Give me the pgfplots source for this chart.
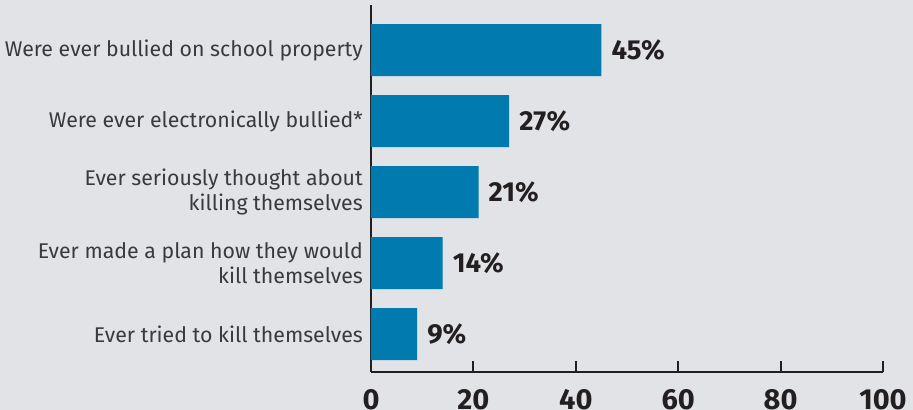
\documentclass[border=0pt]{standalone}
\usepackage{fontspec}
\setmainfont{Fira Sans}
\usepackage{pgfplots}
\pgfplotsset{compat=1.18}
\definecolor{bgc}{HTML}{E2E3E7}
\definecolor{barc}{HTML}{007AAF}
\definecolor{dark}{HTML}{231F20}
\definecolor{labc}{HTML}{3A3A3C}
\begin{document}
\begin{tikzpicture}
\useasboundingbox (-371bp,-38bp) rectangle (542bp,372bp);
\fill[bgc] (-371bp,-38bp) rectangle (542bp,372bp);
\clip (-371bp,-38bp) rectangle (542bp,372bp);
\begin{axis}[
  at={(0,0)}, anchor=south west,
  scale only axis,
  width=512bp, height=367bp,
  xmin=0, xmax=100,
  ymin=-0.535, ymax=4.634,
  axis lines*=left,
  axis line style={line width=2bp, dark},
  xbar, bar width=52bp,
  xtick={0,20,40,60,80,100},
  tick align=inside,
  xtick style={line width=2bp, dark},
  major tick length=11bp,
  ytick={0,1,2,3,4},
  ytick style={draw=none},
  yticklabels={{Ever tried to kill themselves},{Ever made a plan how they would\\kill themselves},{Ever seriously thought about\\killing themselves},{Were ever electronically bullied*},{Were ever bullied on school property}},
  yticklabel style={font=\fontsize{21.3bp}{25bp}\selectfont, align=right, text=labc, inner sep=0pt, xshift=-8bp},
  xticklabel style={font=\fontsize{29bp}{32bp}\selectfont\bfseries, text=dark, inner sep=0pt, yshift=-17bp},
  /pgf/number format/assume math mode=true,
  point meta=x,
  nodes near coords={\pgfmathprintnumber{\pgfplotspointmeta}\%},
  nodes near coords style={font=\fontsize{27.5bp}{30bp}\selectfont\bfseries, text=dark, anchor=west, inner sep=0pt, xshift=10bp},
  clip=false,
]
\addplot[fill=barc, draw=none] coordinates {(9,0) (14,1) (21,2) (27,3) (45,4)};
\end{axis}
\end{tikzpicture}
\end{document}
